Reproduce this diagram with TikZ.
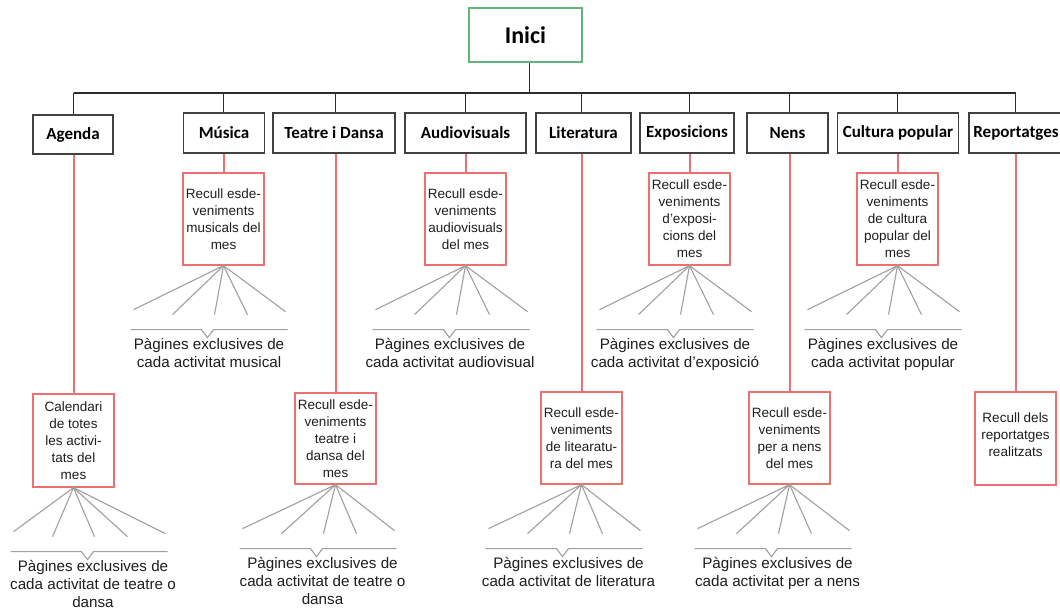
\documentclass[tikz,border=0pt]{standalone}
\usepackage{fontspec}
\setmainfont{Liberation Sans}
\newfontfamily\catfont{Carlito}
\usetikzlibrary{calc}
\definecolor{redc}{RGB}{236,112,112}
\definecolor{greenc}{RGB}{95,182,120}
\definecolor{linec}{RGB}{45,45,45}
\definecolor{boxc}{RGB}{65,65,65}
\definecolor{fanc}{RGB}{160,160,160}
\definecolor{txtc}{RGB}{30,30,30}
\newcommand\fanout[2]{%
  \draw[fanline] ($(#1.south)+({#2-90},44)$) -- (#1.south) -- ($(#1.south)+({#2-51},49)$);
  \draw[fanline] ($(#1.south)+({#2-9},49)$) -- (#1.south) -- ($(#1.south)+({#2+24},49)$);
  \draw[fanline] (#1.south) -- ($(#1.south)+({#2+62},46)$);
  \draw[fanline] ($(#1.south)+({#2-93},64)$) -- ($(#1.south)+({#2-22},64)$) -- ($(#1.south)+({#2-16},72)$) -- ($(#1.south)+({#2-10},64)$) -- ($(#1.south)+({#2+64},64)$);
}
\newcommand\treelinks[2]{%
  \draw[link] (#2.north |- #1.north) -- (#2.north |- busL);
  \draw[redlink] (#2.north |- #1.south) -- (#2.north);
}
\begin{document}
\begin{tikzpicture}[x=1pt,y=-1pt,
  catbox/.style={draw=boxc, line width=1.3pt, minimum height=39pt, inner sep=0pt, text=black, font=\catfont\bfseries\fontsize{17}{20}\selectfont},
  subbox/.style={draw=redc, line width=1.3pt, minimum width=81pt, minimum height=92pt, inner sep=0pt, align=center, text=txtc, font=\fontsize{13.5}{17}\selectfont},
  link/.style={draw=linec, line width=1.3pt},
  redlink/.style={draw=redc, line width=2pt},
  fanline/.style={draw=fanc, line width=1.1pt},
  pages/.style={align=center, inner sep=0pt, anchor=north, text=txtc, font=\fontsize{15.2}{18}\selectfont},
]
\useasboundingbox (0,0) rectangle (1060,612);
\fill[white] (0,0) rectangle (1060,612);

% root
\node[draw=greenc, line width=1.3pt, minimum width=113pt, minimum height=54pt, inner sep=0pt, font=\catfont\bfseries\fontsize{24}{28}\selectfont] (inici) at (525.5,35) {Inici};
\coordinate (busL) at (73.5,93);
\coordinate (busR) at (1015.5,93);

% categories
\node[catbox, minimum width=80pt] (agenda) at (73,134.5) {Agenda};
\node[catbox, minimum width=81pt, minimum height=40pt] (musica) at (224,133) {Música};
\node[catbox, minimum width=122pt, minimum height=40pt] (teatre) at (334,133) {Teatre i Dansa};
\node[catbox, minimum width=121pt, minimum height=40pt] (audio) at (465.5,133) {Audiovisuals};
\node[catbox, minimum width=95pt, minimum height=40pt] (lit) at (583.5,133) {Literatura};
\node[catbox, minimum width=94pt, minimum height=40pt] (expo) at (687,133) {Exposicions};
\node[catbox, minimum width=81pt, minimum height=40pt] (nens) at (787.5,133) {Nens};
\node[catbox, minimum width=121pt, minimum height=40pt] (cult) at (898,133) {Cultura popular};
\node[catbox, minimum width=94pt, minimum height=40pt] (repo) at (1016,133) {Reportatges};

% sub boxes
\node[subbox, minimum height=93pt] (agS) at (73.5,440.5) {Calendari\\de totes\\les activi-\\tats del\\mes};
\node[subbox] (muS) at (223.5,219) {Recull esde-\\veniments\\musicals del\\mes};
\node[subbox, minimum height=91pt] (teS) at (335.5,438.5) {Recull esde-\\veniments\\teatre i\\dansa del\\mes};
\node[subbox] (auS) at (465.5,219) {Recull esde-\\veniments\\audiovisuals\\del mes};
\node[subbox] (liS) at (581.5,438) {Recull esde-\\veniments\\de litearatu-\\ra del mes};
\node[subbox] (exS) at (689.5,219) {Recull esde-\\veniments\\d'exposi-\\cions del\\mes};
\node[subbox] (neS) at (789.5,438) {Recull esde-\\veniments\\per a nens\\del mes};
\node[subbox] (cuS) at (897.5,219) {Recull esde-\\veniments\\de cultura\\popular del\\mes};
\node[subbox, minimum height=93pt] (reS) at (1015.5,438.5) {Recull dels\\reportatges\\realitzats\\[-10pt]~};

% tree connectors
\draw[link] (inici.south -| 529.5,0) -- (529.5,93);
\draw[link] (busL) -- (busR);
\treelinks{agenda}{agS}
\treelinks{musica}{muS}
\treelinks{teatre}{teS}
\treelinks{audio}{auS}
\treelinks{lit}{liS}
\treelinks{expo}{exS}
\treelinks{nens}{neS}
\treelinks{cult}{cuS}
\treelinks{repo}{reS}

% fans
\fanout{agS}{30}
\fanout{muS}{0}
\fanout{teS}{-3}
\fanout{auS}{0}
\fanout{liS}{-3}
\fanout{exS}{0}
\fanout{neS}{-2}
\fanout{cuS}{0}

% page texts
\node[pages] (agP) at ($(agS.south)+(19.5,72)$) {Pàgines exclusives de\\cada activitat de teatre o\\dansa};
\node[pages] (muP) at ($(muS.south)+(-14.5,72)$) {Pàgines exclusives de\\cada activitat musical};
\node[pages] (teP) at ($(teS.south)+(-13,72)$) {Pàgines exclusives de\\cada activitat de teatre o\\dansa};
\node[pages] (auP) at ($(auS.south)+(-15.5,72)$) {Pàgines exclusives de\\cada activitat audiovisual};
\node[pages] (liP) at ($(liS.south)+(-13,72)$) {Pàgines exclusives de\\cada activitat de literatura};
\node[pages] (exP) at ($(exS.south)+(-14.5,72)$) {Pàgines exclusives de\\cada activitat d'exposició};
\node[pages] (neP) at ($(neS.south)+(-12,72)$) {Pàgines exclusives de\\cada activitat per a nens};
\node[pages] (cuP) at ($(cuS.south)+(-14.5,72)$) {Pàgines exclusives de\\cada activitat popular};
\end{tikzpicture}
\end{document}
